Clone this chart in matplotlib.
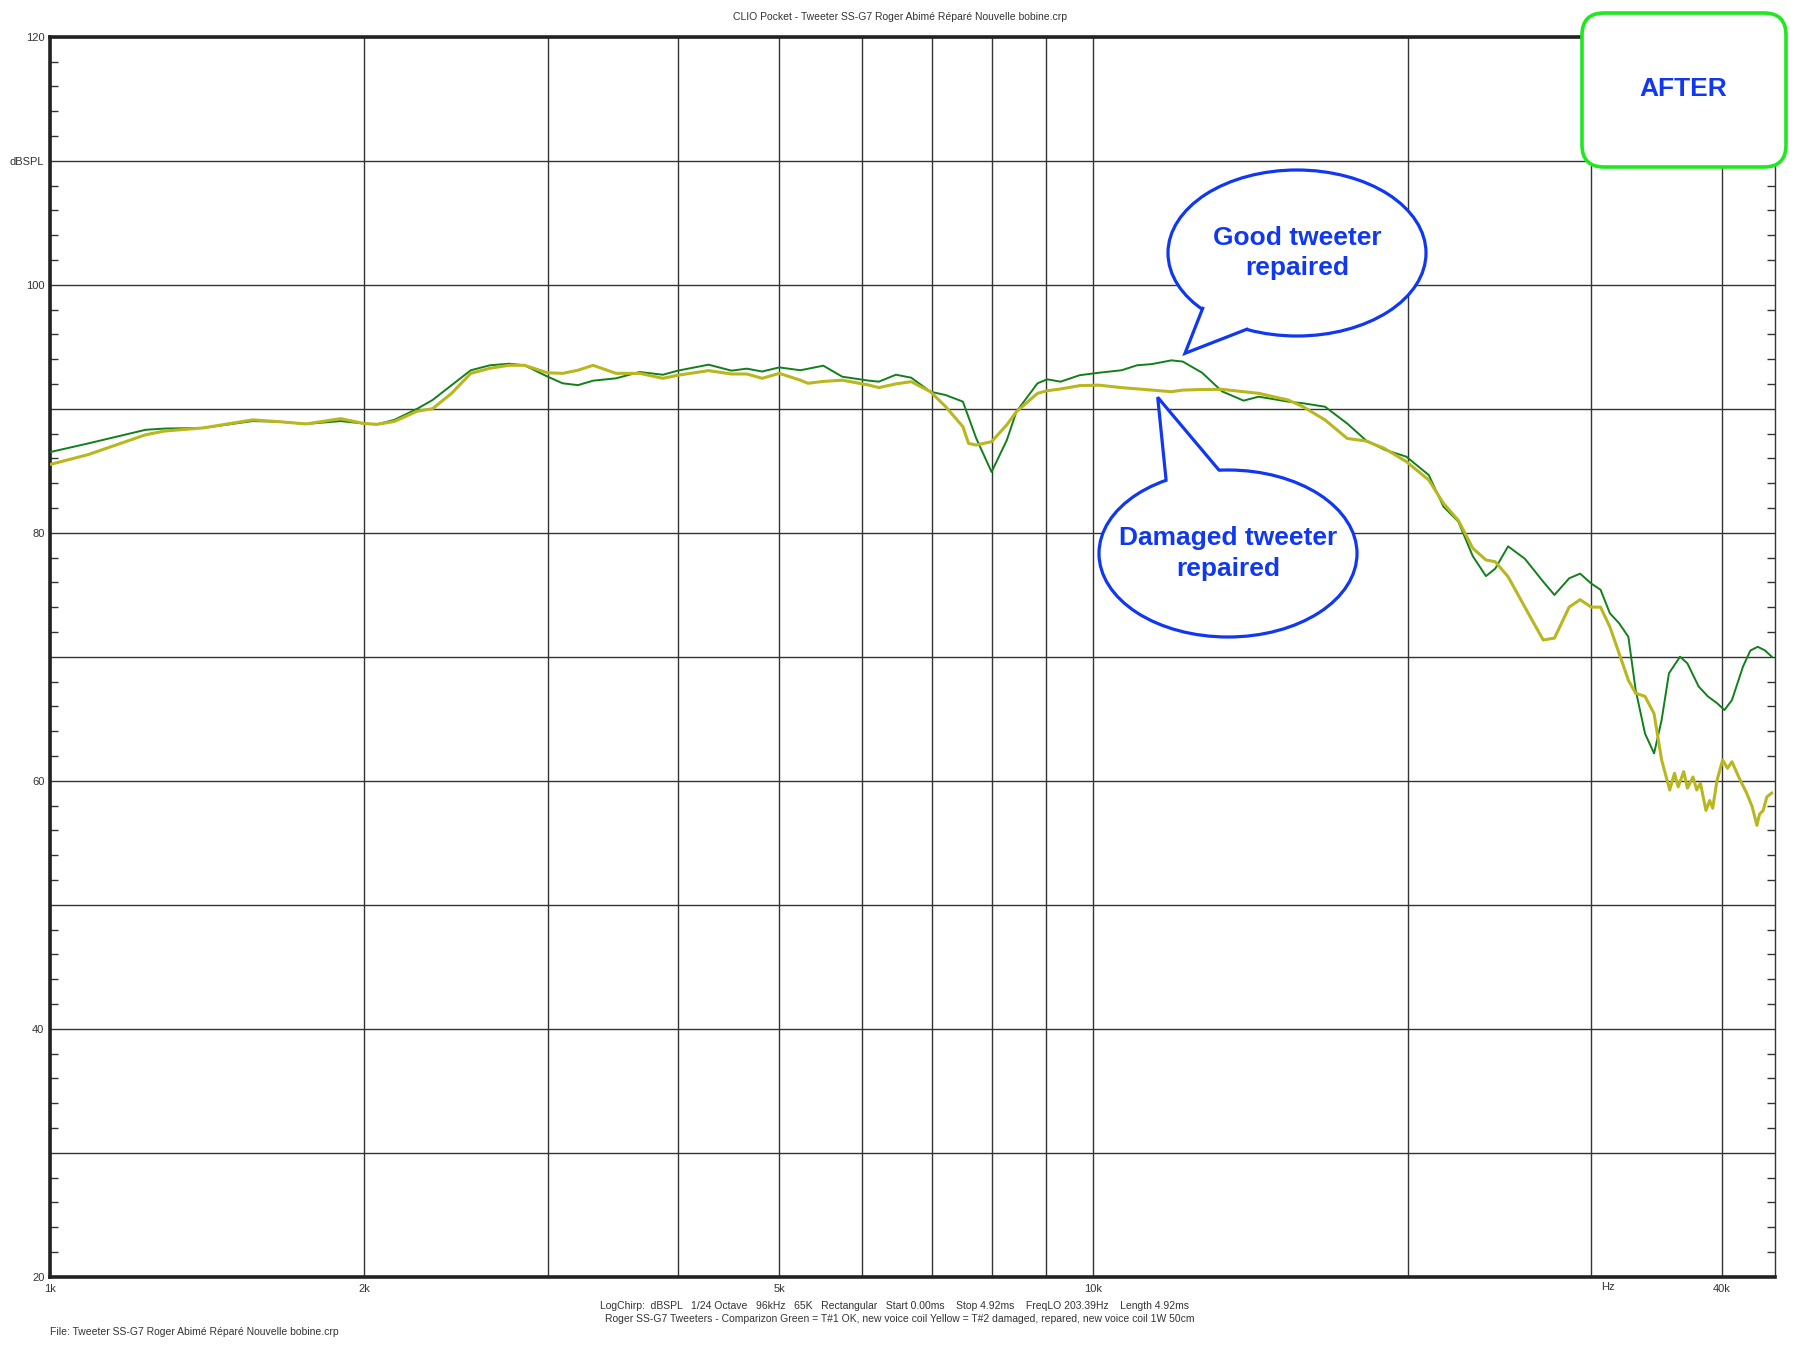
import matplotlib
matplotlib.use("Agg")
import matplotlib.pyplot as plt
from matplotlib.patches import Ellipse, Polygon, FancyBboxPatch
from matplotlib.ticker import FixedLocator, NullLocator

plt.rcParams['font.family'] = ['Liberation Sans', 'DejaVu Sans']

# ---- data ----
freq_green = [1000, 1088, 1235, 1288, 1402, 1564, 1660, 1760, 1899, 2000, 2058, 2138,
              2249, 2326, 2426, 2531, 2640, 2754, 2849, 2996, 3099, 3206, 3315, 3487,
              3674, 3867, 3998, 4277, 4499, 4654, 4814, 5000, 5238, 5510, 5745, 6096,
              6228, 6467, 6690, 6979, 7218, 7497, 7722, 7987, 8260, 8437, 8840, 9030,
              9300, 9700, 10120, 10640, 11010, 11380, 11880, 12180, 12710, 13280, 13930,
              14400, 15370, 15880, 16670, 17510, 18240, 19000, 19950, 20960, 21650,
              22370, 23100, 23780, 24270, 24970, 25910, 26980, 27660, 28570, 29270,
              30000, 30620, 31260, 31900, 32560, 33090, 33780, 34460, 35040, 35610,
              36490, 37090, 38020, 38800, 39600, 40250, 40920, 41930, 42620, 43320,
              44030, 44670]
spl_green = [86.5, 87.2, 88.3, 88.4, 88.45, 89.0, 88.95, 88.77, 89.0, 88.8, 88.74, 89.1,
             90.0, 90.7, 91.9, 93.1, 93.5, 93.63, 93.5, 92.6, 92.05, 91.9, 92.26, 92.45,
             92.96, 92.74, 93.07, 93.55, 93.07, 93.23, 93.0, 93.33, 93.1, 93.47, 92.58, 92.26,
             92.18, 92.74, 92.5, 91.37, 91.1, 90.57, 87.6, 84.9, 87.46, 89.76, 92.05, 92.37,
             92.18, 92.7, 92.9, 93.1, 93.5, 93.6, 93.9, 93.8, 92.9, 91.4, 90.65,
             90.97, 90.57, 90.44, 90.16, 88.8, 87.46, 86.7, 86.13, 84.65, 82.1,
             80.9, 78.1, 76.5, 77.1, 78.9, 77.9, 76.05, 74.98, 76.32, 76.7,
             75.9, 75.4, 73.5, 72.7, 71.6, 67.3, 63.8, 62.2, 64.9, 68.66,
             70.0, 69.46, 67.6, 66.8, 66.25, 65.7, 66.5, 69.2, 70.5, 70.8,
             70.5, 70.0]

freq_yellow = [1000, 1088, 1235, 1288, 1402, 1564, 1660, 1760, 1899, 2000, 2058, 2138,
               2249, 2326, 2426, 2531, 2640, 2754, 2849, 2996, 3099, 3206, 3315, 3487,
               3674, 3867, 3998, 4277, 4499, 4654, 4814, 5000, 5238, 5325, 5510, 5745,
               6096, 6228, 6467, 6690, 6979, 7218, 7497, 7592, 7722, 7987, 8260, 8437,
               8840, 9030, 9300, 9700, 10120, 10640, 11010, 11380, 11880, 12180, 12710,
               13280, 13930, 14400, 15370, 15880, 16670, 17510, 18240, 19000, 19950,
               20960, 21650, 22370, 23100, 23780, 24270, 24970, 25910, 26980, 27660,
               28570, 29270, 30000, 30620, 31260, 31900, 32560, 33090, 33780, 34460,
               35040, 35670, 36050, 36340, 36790, 37090, 37550, 37860, 38170, 38640,
               38960, 39220, 39600, 40090, 40520, 40920, 41590, 42270, 42790, 43240,
               43490, 43840, 44200, 44670]
spl_yellow = [85.5, 86.3, 87.9, 88.2, 88.45, 89.1, 88.95, 88.77, 89.2, 88.8, 88.74, 88.97,
              89.8, 90.0, 91.24, 92.85, 93.26, 93.5, 93.5, 92.9, 92.85, 93.1, 93.5, 92.85,
              92.85, 92.45, 92.7, 93.07, 92.8, 92.8, 92.45, 92.85, 92.3, 92.05, 92.2, 92.3,
              91.9, 91.7, 92.0, 92.18, 91.37, 90.16, 88.55, 87.2, 87.07, 87.34, 88.7, 89.76,
              91.24, 91.45, 91.59, 91.86, 91.9, 91.7, 91.6, 91.5, 91.37, 91.5, 91.55,
              91.56, 91.37, 91.24, 90.7, 90.16, 89.1, 87.6, 87.4, 86.8, 85.73,
              84.25, 82.37, 81.0, 78.74, 77.8, 77.66, 76.45, 74.0, 71.35, 71.5,
              74.0, 74.6, 74.0, 74.0, 72.4, 70.27, 68.1, 67.05, 66.8, 65.4,
              61.67, 59.25, 60.6, 59.5, 60.73, 59.4, 60.3, 59.25, 59.8, 57.6,
              58.4, 57.78, 60.05, 61.67, 61.0, 61.53, 60.2, 59.0, 57.9, 56.4,
              57.3, 57.6, 58.7, 59.0]

x_grid = [1000, 2000, 3000, 4000, 5000, 6000, 7000, 8000, 9000, 10000, 20000, 30000, 40000]
x_labels = ['1k', '2k', '', '', '5k', '', '', '', '', '10k', '', '', '40k']
y_grid = [20, 30, 40, 50, 60, 70, 80, 90, 100, 110, 120]
y_labels = ['20', '', '40', '', '60', '', '80', '', '100', 'dBSPL', '120']

title = "CLIO Pocket - Tweeter SS-G7 Roger Abimé Réparé Nouvelle bobine.crp"
info_1 = ("LogChirp:  dBSPL   1/24 Octave   96kHz   65K   Rectangular   Start 0.00ms    "
          "Stop 4.92ms    FreqLO 203.39Hz    Length 4.92ms")
info_2 = ("Roger SS-G7 Tweeters - Comparizon Green = T#1 OK, new voice coil "
          "Yellow = T#2 damaged, repared, new voice coil 1W 50cm")
file_line = "File: Tweeter SS-G7 Roger Abimé Réparé Nouvelle bobine.crp"

GREEN = "#12801a"
YELLOW = "#b9b720"
BLUE = "#1038f2"
BOX_GREEN = "#1fe81f"
TXT = "#333333"
W, H = 1800, 1350

fig = plt.figure(figsize=(W / 100, H / 100), dpi=100)
ax = fig.add_axes([50 / W, 1 - 1276.7 / H, 1725 / W, 1240 / H])

ax.plot(freq_green, spl_green, color=GREEN, lw=1.4, zorder=3)
ax.plot(freq_yellow, spl_yellow, color=YELLOW, lw=2.2, zorder=4)

ax.set_xscale('log')
ax.set_xlim(1000, 45000)
ax.set_ylim(20, 120)

ax.xaxis.set_major_locator(FixedLocator(x_grid))
ax.xaxis.set_minor_locator(NullLocator())
ax.set_xticklabels(x_labels)
ax.set_yticks(y_grid)
ax.set_yticklabels(y_labels)
ax.yaxis.set_minor_locator(FixedLocator([v for v in range(20, 121, 2) if v % 10]))

ax.tick_params(axis='both', which='major', length=0, labelsize=8, labelcolor=TXT)
ax.tick_params(axis='x', pad=5)
ax.tick_params(axis='y', pad=4)
ax.tick_params(axis='y', which='minor', direction='in', length=6, width=1,
               color='#333333', left=True, right=True)

ax.grid(True, which='major', color='#333333', lw=1.0, zorder=1)
for side in ['left', 'top', 'bottom']:
    ax.spines[side].set_linewidth(2.6)
    ax.spines[side].set_color('#222222')
ax.spines['right'].set_linewidth(1.0)
ax.spines['right'].set_color('#333333')

# "Hz" marker on the frequency axis, level with the tick labels
ax.text(31100, 19.55, "Hz", ha='center', va='top', fontsize=8, color=TXT)

fig.text(0.5, 1 - 17 / H, title, ha='center', va='center', fontsize=7.5, color=TXT)
fig.text(894 / W, 1 - 1306 / H, info_1, ha='center', va='center', fontsize=7.5, color=TXT)
fig.text(900 / W, 1 - 1319 / H, info_2, ha='center', va='center', fontsize=7.5, color=TXT)
fig.text(50 / W, 1 - 1332 / H, file_line, ha='left', va='center', fontsize=7.5, color=TXT)

# ---- overlay in pixel coordinates for the callouts ----
ov = fig.add_axes([0, 0, 1, 1], zorder=5)
ov.set_xlim(0, W)
ov.set_ylim(H, 0)
ov.axis('off')
ov.patch.set_alpha(0)


def speech_bubble(center, size, base1, base2, tip, text):
    cx, cy = center
    ov.add_patch(Ellipse(center, size[0], size[1], facecolor='white',
                         edgecolor=BLUE, lw=2.3, zorder=5))
    inner1 = (cx + 0.8 * (base1[0] - cx), cy + 0.8 * (base1[1] - cy))
    inner2 = (cx + 0.8 * (base2[0] - cx), cy + 0.8 * (base2[1] - cy))
    ov.add_patch(Polygon([tip, base1, inner1, inner2, base2], closed=True,
                         facecolor='white', edgecolor='none', zorder=6))
    ov.plot([base1[0], tip[0], base2[0]], [base1[1], tip[1], base2[1]],
            color=BLUE, lw=2.3, solid_joinstyle='miter', zorder=7)
    ov.text(cx, cy, text, ha='center', va='center', multialignment='center',
            fontsize=19, fontweight='bold', color=BLUE, linespacing=1.36, zorder=8)


speech_bubble((1297, 253), (258, 166), (1202.7, 308.3), (1246.7, 329.3),
              (1185, 353.3), "Good tweeter\nrepaired")
speech_bubble((1228, 553.5), (258, 167), (1166, 479.3), (1218.3, 469.3),
              (1157.7, 397.3), "Damaged tweeter\nrepaired")

ov.add_patch(FancyBboxPatch((1582, 13), 204, 154,
                            boxstyle="round,pad=0,rounding_size=22",
                            facecolor='white', edgecolor=BOX_GREEN, lw=2.6, zorder=5))
ov.text(1683, 89, "AFTER", ha='center', va='center', fontsize=19,
        fontweight='bold', color=BLUE, zorder=8)

fig.savefig("out.png", dpi=100, facecolor='white')
